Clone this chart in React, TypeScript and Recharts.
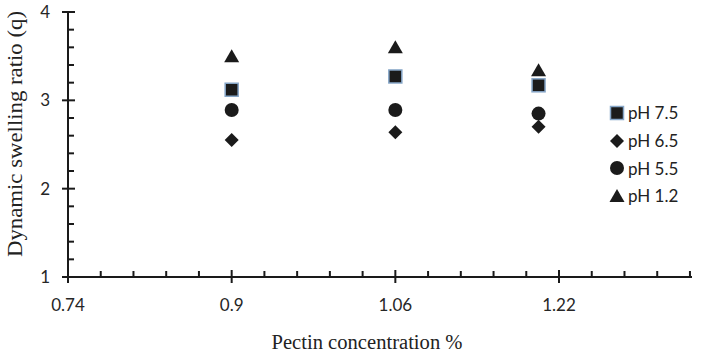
import { ScatterChart, Scatter, XAxis, YAxis, Legend } from 'recharts';

// Pectin concentration (%) on the x axis
const concentrations = [0.9, 1.06, 1.2];

// Dynamic swelling ratio (q) per pH
const ph75 = [3.12, 3.27, 3.17];
const ph65 = [2.55, 2.64, 2.7];
const ph55 = [2.89, 2.89, 2.85];
const ph12 = [3.5, 3.6, 3.34];

const xMajorTicks = [0.74, 0.9, 1.06, 1.22];
const yMajorTicks = [1, 2, 3, 4];

const MARK = '#1b1b1b';
const AXIS = '#1a1a1a';
const LABEL_FONT = 'Lato, "Open Sans", sans-serif';
const TITLE_FONT = '"Liberation Serif", "DejaVu Serif", serif';

const toPoints = (values: number[]) =>
  concentrations.map((x, i) => ({ x, y: values[i] }));

const series = [
  { name: 'pH 7.5', shape: 'square', data: toPoints(ph75) },
  { name: 'pH 6.5', shape: 'diamond', data: toPoints(ph65) },
  { name: 'pH 5.5', shape: 'circle', data: toPoints(ph55) },
  { name: 'pH 1.2', shape: 'triangle', data: toPoints(ph12) },
];

// minor ticks: 5 steps between x majors, 5 steps between y majors
const xTicks: number[] = [];
for (let k = 0; k <= 19; k++) xTicks.push(Math.round((0.74 + k * 0.032) * 1000) / 1000);
const yTicks: number[] = [];
for (let k = 0; k <= 15; k++) yTicks.push(Math.round((1 + k * 0.2) * 100) / 100);

const isMajor = (list: number[], v: number) =>
  list.some((m) => Math.abs(m - v) < 1e-6);

function Marker({ kind, cx, cy }: { kind: string; cx: number; cy: number }) {
  if (kind === 'square') {
    return <rect x={cx - 6.5} y={cy - 6.5} width={13} height={13} fill={MARK} stroke="#86a6c8" strokeWidth={1.5} />;
  }
  if (kind === 'diamond') {
    const r = 7;
    return <polygon points={`${cx},${cy - r} ${cx + r},${cy} ${cx},${cy + r} ${cx - r},${cy}`} fill={MARK} />;
  }
  if (kind === 'circle') {
    return <circle cx={cx} cy={cy} r={7} fill={MARK} />;
  }
  return <polygon points={`${cx},${cy - 7} ${cx + 7.5},${cy + 6} ${cx - 7.5},${cy + 6}`} fill={MARK} />;
}

const XTick = ({ x, y, payload }: any) => {
  const major = isMajor(xMajorTicks, payload.value);
  return (
    <g>
      {major ? (
        <line x1={x} x2={x} y1={y - 7} y2={y + 6} stroke={AXIS} strokeWidth={2} />
      ) : (
        <line x1={x} x2={x} y1={y - 6} y2={y} stroke={AXIS} strokeWidth={2} />
      )}
      {major && (
        <text x={x} y={y + 34} textAnchor="middle" fontFamily={LABEL_FONT} fontSize={17} fill="#262626">
          {payload.value}
        </text>
      )}
    </g>
  );
};

const YTick = ({ x, y, payload }: any) => {
  const major = isMajor(yMajorTicks, payload.value);
  return (
    <g>
      {major ? (
        <line x1={x - 6} x2={x + 7} y1={y} y2={y} stroke={AXIS} strokeWidth={2} />
      ) : (
        <line x1={x} x2={x + 6} y1={y} y2={y} stroke={AXIS} strokeWidth={2} />
      )}
      {major && (
        <text x={x - 18} y={y + 6} textAnchor="end" fontFamily={LABEL_FONT} fontSize={17} fill="#262626">
          {payload.value}
        </text>
      )}
    </g>
  );
};

const renderLegend = () => (
  <div style={{ fontFamily: LABEL_FONT, fontSize: 17, color: '#222' }}>
    {series.map((s) => (
      <div key={s.name} style={{ display: 'flex', alignItems: 'center', height: 27.7 }}>
        <svg width={16} height={16} style={{ marginRight: 3 }}>
          <Marker kind={s.shape} cx={8} cy={8} />
        </svg>
        <span>{s.name}</span>
      </div>
    ))}
  </div>
);

export default function App() {
  return (
    <div style={{ position: 'absolute', left: 0, top: 0, width: 702, height: 360, background: '#fff' }}>
      <ScatterChart width={702} height={360} margin={{ top: 12, right: 10, left: 0, bottom: 0 }}>
        <XAxis
          type="number"
          dataKey="x"
          domain={[0.74, 1.35]}
          ticks={xTicks}
          interval={0}
          minTickGap={0}
          allowDataOverflow
          height={83}
          tickSize={0}
          tickMargin={0}
          tickLine={false}
          tick={<XTick />}
          axisLine={{ stroke: AXIS, strokeWidth: 2 }}
        />
        <YAxis
          type="number"
          dataKey="y"
          domain={[1, 4]}
          ticks={yTicks}
          interval={0}
          minTickGap={0}
          width={68}
          tickSize={0}
          tickMargin={0}
          tickLine={false}
          tick={<YTick />}
          axisLine={{ stroke: AXIS, strokeWidth: 2 }}
        />
        <Legend
          layout="vertical"
          align="center"
          verticalAlign="middle"
          content={renderLegend}
          wrapperStyle={{ position: 'absolute', left: 609, top: 99, width: 90 }}
        />
        {series.map((s) => (
          <Scatter
            key={s.name}
            name={s.name}
            data={s.data}
            isAnimationActive={false}
            shape={(p: any) => <Marker kind={s.shape} cx={p.cx} cy={p.cy} />}
          />
        ))}
        <text x={367} y={349} textAnchor="middle" fontFamily={TITLE_FONT} fontSize={20} fill="#222" textLength={191} lengthAdjust="spacingAndGlyphs">
          Pectin concentration %
        </text>
        <text
          x={0}
          y={0}
          transform="translate(22, 134) rotate(-90)"
          textAnchor="middle"
          fontFamily={TITLE_FONT}
          fontSize={20}
          fill="#222"
          textLength={246}
          lengthAdjust="spacingAndGlyphs"
        >
          Dynamic swelling ratio (q)
        </text>
      </ScatterChart>
    </div>
  );
}
